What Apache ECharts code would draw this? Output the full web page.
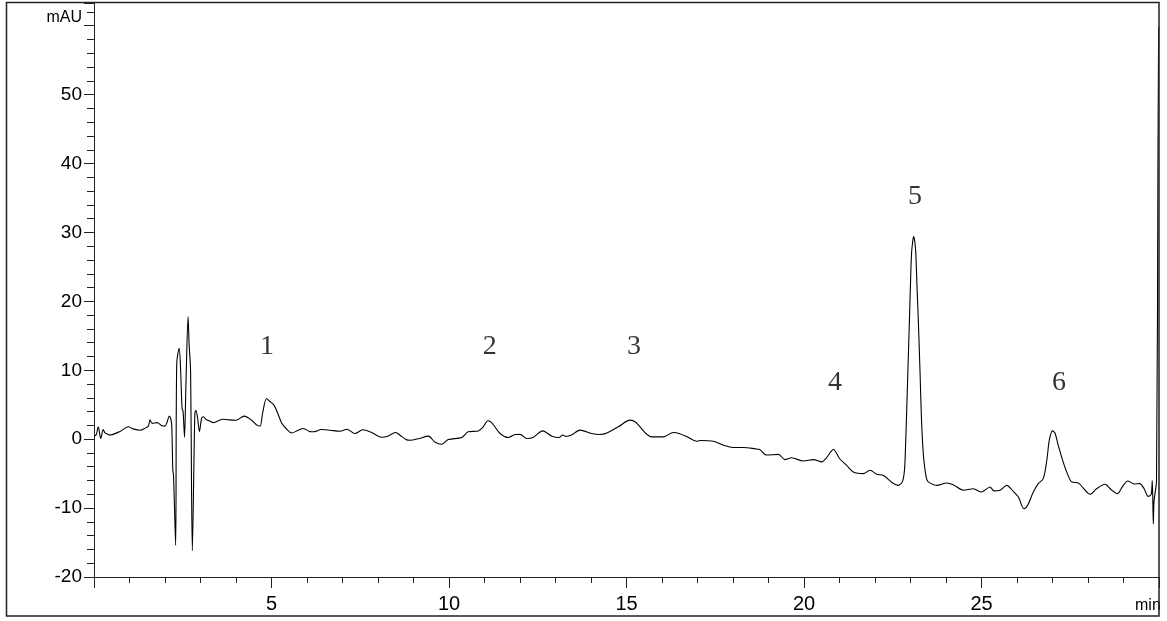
<!DOCTYPE html>
<html>
<head>
<meta charset="utf-8">
<title>Chromatogram</title>
<script src="https://cdn.jsdelivr.net/npm/echarts@6/dist/echarts.min.js"></script>
<style>
  html, body { margin: 0; padding: 0; background: #fff; }
  #chart { width: 1167px; height: 621px; }
</style>
</head>
<body>
<div id="chart"></div>
<script>
// Retention time (min) of each sampled point of the trace
const retentionTime = [
  0.00, 0.06, 0.12, 0.19, 0.26, 0.31, 0.36, 0.45, 0.54, 0.73, 0.97, 1.10, 1.30, 1.44, 1.53, 1.58, 1.64, 1.78, 1.90, 2.00,
  2.06, 2.12, 2.16, 2.19, 2.22, 2.24, 2.30, 2.33, 2.40, 2.44, 2.48, 2.51, 2.55, 2.59, 2.65, 2.68, 2.72, 2.77, 2.84, 2.87,
  2.92, 2.97, 3.03, 3.08, 3.15, 3.27, 3.36, 3.62, 3.80, 4.00, 4.23, 4.44, 4.60, 4.68, 4.75, 4.86, 4.95, 5.07, 5.18, 5.29,
  5.41, 5.57, 5.75, 5.90, 6.08, 6.18, 6.41, 6.65, 6.93, 7.12, 7.35, 7.57, 7.82, 8.10, 8.25, 8.50, 8.62, 8.81, 8.90, 9.16,
  9.42, 9.60, 9.79, 9.98, 10.36, 10.54, 10.83, 10.95, 11.10, 11.20, 11.44, 11.67, 11.86, 12.00, 12.19, 12.35, 12.64, 12.90, 13.10, 13.20,
  13.30, 13.45, 13.69, 14.02, 14.25, 14.45, 14.77, 15.10, 15.25, 15.71, 16.04, 16.32, 16.50, 16.71, 16.98, 17.07, 17.45, 17.73, 18.00, 18.30,
  18.63, 18.75, 18.95, 19.28, 19.46, 19.65, 19.98, 20.27, 20.50, 20.62, 20.83, 21.00, 21.20, 21.39, 21.67, 21.86, 22.05, 22.23, 22.50, 22.65,
  22.77, 22.83, 22.86, 22.89, 22.93, 22.97, 23.00, 23.03, 23.07, 23.09, 23.12, 23.15, 23.18, 23.22, 23.27, 23.31, 23.36, 23.41, 23.45, 23.50,
  23.74, 24.02, 24.20, 24.49, 24.77, 25.00, 25.24, 25.35, 25.52,
  25.71, 25.90, 26.04, 26.20, 26.30, 26.46, 26.60, 26.74, 26.84, 26.91, 27.00, 27.07, 27.16, 27.30, 27.40, 27.54, 27.73, 27.85, 28.06, 28.24,
  28.48, 28.65, 28.83, 28.98, 29.12, 29.30, 29.46, 29.58, 29.70, 29.78, 29.81, 29.84, 29.86, 29.93, 29.97, 29.99
];

// Detector response (mAU) at each retention time
const absorbance = [
  0.5, 0.6, 1.8, 0.1, 1.4, 0.9, 0.8, 0.6, 0.7, 1.1, 1.8, 1.5, 1.3, 1.6, 1.9, 2.8, 2.3, 2.4, 2.0, 1.9,
  2.5, 3.35, 3.0, 2.0, -4.5, -5.2, -15.4, 11.0, 13.2, 10.0, 4.5, 4.0, 0.3, 8.0, 17.8, 13.7, 10.0, -16.2, 3.7, 4.2,
  3.0, 1.1, 3.0, 3.25, 2.9, 2.6, 2.4, 2.9, 2.8, 2.75, 3.35, 2.75, 2.0, 1.9, 3.8, 5.9, 5.5, 4.95, 3.7, 2.3,
  1.55, 0.9, 1.3, 1.55, 1.1, 1.07, 1.4, 1.3, 1.16, 1.45, 0.82, 1.36, 0.97, 0.29, 0.4, 0.97, 0.58, -0.1, -0.15, 0.1,
  0.44, -0.4, -0.73, -0.05, 0.24, 1.07, 1.2, 1.7, 2.67, 2.4, 0.82, 0.24, 0.68, 0.7, 0.1, 0.2, 1.21, 0.44, 0.24, 0.6,
  0.4, 0.6, 1.31, 0.82, 0.68, 0.9, 1.8, 2.77, 2.5, 0.34, 0.34, 0.97, 0.8, 0.34, -0.3, -0.2, -0.3, -0.87, -1.2, -1.2,
  -1.4, -1.5, -2.3, -2.2, -2.96, -2.7, -3.16, -2.96, -3.3, -2.8, -1.5, -2.8, -3.8, -4.76, -5.0, -4.5, -5.1, -5.24, -6.36, -6.7,
  -6.2, -4.5, -1.1, 3.7, 10.5, 17.3, 22.6, 27.0, 29.0, 29.4, 28.7, 27.0, 22.6, 17.3, 9.5, 2.8, -2.1, -4.5, -5.7, -6.2,
  -6.7, -6.36, -6.6, -7.4, -7.2, -7.67, -6.94, -7.5, -7.4,
  -6.7, -7.6, -8.4, -10.1, -9.6, -7.67, -6.45, -5.72, -3.06, -0.15, 1.21, 0.9, -0.87, -3.3, -4.76, -6.2, -6.36, -7.0, -8.0, -7.2,
  -6.55, -7.3, -7.9, -6.8, -6.07, -6.5, -6.45, -7.2, -8.3, -8.0, -6.0, -12.3, -9.0, -6.0, 40.0, 59.8
];

// Peak numbers and where each number is written (min, mAU)
const peakNames = ['1', '2', '3', '4', '5', '6'];
const peakLabelTime = [4.87, 11.15, 15.21, 20.87, 23.13, 27.18];
const peakLabelLevel = [13.5, 13.5, 13.5, 8.15, 35.2, 8.15];

// Axis ranges and labelled ticks
const timeRange = [0, 30];
const timeTicks = [5, 10, 15, 20, 25];
const signalRange = [-20, 63.3];
const signalTicks = [-20, -10, 0, 10, 20, 30, 40, 50];

const trace = retentionTime.map((t, i) => [t, absorbance[i]]);
const peakMarks = peakNames.map((n, i) => ({ name: n, value: [peakLabelTime[i], peakLabelLevel[i]] }));

const chart = echarts.init(document.getElementById('chart'), null, { renderer: 'canvas' });

const axisColor = '#222';
const sans = '"Liberation Sans", Arial, sans-serif';

chart.setOption({
  animation: false,
  backgroundColor: '#fff',
  grid: { left: 94, right: 8, top: 3, bottom: 44, containLabel: false },
  xAxis: {
    type: 'value',
    min: timeRange[0],
    max: timeRange[1],
    interval: 5,
    axisLine: { show: true, onZero: false, lineStyle: { color: axisColor, width: 1 } },
    axisTick: { show: true, length: 11, lineStyle: { color: axisColor } },
    minorTick: { show: true, splitNumber: 5, length: 6, lineStyle: { color: axisColor } },
    splitLine: { show: false },
    axisLabel: {
      margin: 17,
      color: '#000',
      fontFamily: sans,
      fontSize: 20,
      showMinLabel: false,
      showMaxLabel: false,
      formatter: v => (timeTicks.includes(v) ? String(v) : '')
    }
  },
  yAxis: {
    type: 'value',
    min: signalRange[0],
    max: signalRange[1],
    interval: 10,
    axisLine: { show: true, onZero: false, lineStyle: { color: axisColor, width: 1 } },
    axisTick: { show: true, length: 10, lineStyle: { color: axisColor } },
    minorTick: { show: true, splitNumber: 5, length: 7, lineStyle: { color: axisColor } },
    splitLine: { show: false },
    axisLabel: {
      margin: 12,
      color: '#000',
      fontFamily: sans,
      fontSize: 19,
      showMaxLabel: false,
      formatter: v => (signalTicks.includes(v) ? String(v) : '')
    }
  },
  series: [
    {
      type: 'line',
      data: trace,
      showSymbol: false,
      smooth: 0.3,
      clip: true,
      lineStyle: { color: '#000', width: 1.1 },
      z: 3
    },
    {
      type: 'scatter',
      data: peakMarks,
      symbolSize: 0,
      silent: true,
      label: {
        show: true,
        position: 'inside',
        formatter: p => p.name,
        color: '#000',
        fontFamily: '"Liberation Serif", "Times New Roman", serif',
        fontSize: 28
      },
      z: 4
    }
  ],
  graphic: [
    {
      type: 'text',
      x: 82,
      y: 18,
      style: {
        text: 'mAU',
        fill: '#000',
        font: '16px "Liberation Sans", Arial, sans-serif',
        textAlign: 'right',
        textVerticalAlign: 'middle'
      },
      silent: true
    },
    {
      type: 'text',
      x: 1135,
      y: 606,
      style: {
        text: 'min',
        fill: '#000',
        font: '16px "Liberation Sans", Arial, sans-serif',
        textAlign: 'left',
        textVerticalAlign: 'middle'
      },
      silent: true,
      z: 5
    },
    {
      type: 'rect',
      shape: { x: 6.5, y: 2.5, width: 1152.5, height: 613.5 },
      style: { fill: 'none', stroke: '#222', lineWidth: 1.5 },
      silent: true,
      z: 10
    },
    {
      type: 'rect',
      shape: { x: 1160, y: 0, width: 7, height: 621 },
      style: { fill: '#fff' },
      silent: true,
      z: 9
    }
  ]
});
</script>
</body>
</html>
